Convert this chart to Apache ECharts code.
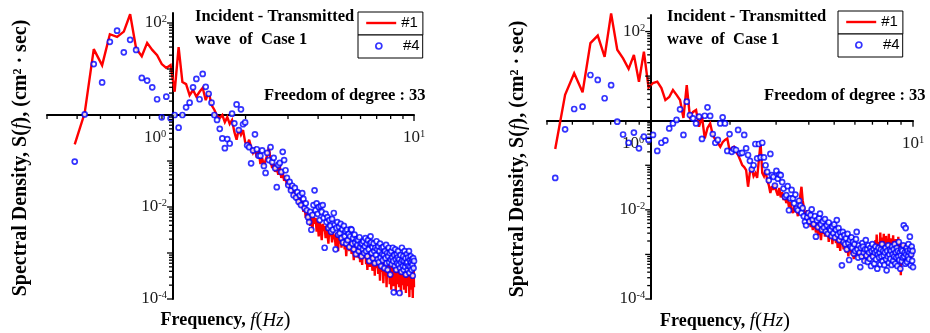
<!DOCTYPE html>
<html>
<head>
<meta charset="utf-8">
<script src="https://cdn.jsdelivr.net/npm/echarts@6/dist/echarts.min.js"></script>
<style>
  html, body { margin: 0; padding: 0; background: #fff; }
  #chart { width: 930px; height: 333px; }
</style>
</head>
<body>
<div id="chart"></div>
<script>
// Frequency bins (Hz), df = 1/25.6 Hz
const freq = [
  0.391,0.430,0.469,0.508,0.547,0.586,0.625,0.664,0.703,0.742,
  0.781,0.820,0.859,0.898,0.938,0.977,1.016,1.055,1.094,1.133,
  1.172,1.211,1.250,1.289,1.328,1.367,1.406,1.445,1.484,1.523,
  1.563,1.602,1.641,1.680,1.719,1.758,1.797,1.836,1.875,1.914,
  1.953,1.992,2.031,2.070,2.109,2.148,2.188,2.227,2.266,2.305,
  2.344,2.383,2.422,2.461,2.500,2.539,2.578,2.617,2.656,2.695,
  2.734,2.773,2.813,2.852,2.891,2.930,2.969,3.008,3.047,3.086,
  3.125,3.164,3.203,3.242,3.281,3.320,3.359,3.398,3.438,3.477,
  3.516,3.555,3.594,3.633,3.672,3.711,3.750,3.789,3.828,3.867,
  3.906,3.945,3.984,4.023,4.063,4.102,4.141,4.180,4.219,4.258,
  4.297,4.336,4.375,4.414,4.453,4.492,4.531,4.570,4.609,4.648,
  4.688,4.727,4.766,4.805,4.844,4.883,4.922,4.961,5.000,5.039,
  5.078,5.117,5.156,5.195,5.234,5.273,5.313,5.352,5.391,5.430,
  5.469,5.508,5.547,5.586,5.625,5.664,5.703,5.742,5.781,5.820,
  5.859,5.898,5.938,5.977,6.016,6.055,6.094,6.133,6.172,6.211,
  6.250,6.289,6.328,6.367,6.406,6.445,6.484,6.523,6.563,6.602,
  6.641,6.680,6.719,6.758,6.797,6.836,6.875,6.914,6.953,6.992,
  7.031,7.070,7.109,7.148,7.188,7.227,7.266,7.305,7.344,7.383,
  7.422,7.461,7.500,7.539,7.578,7.617,7.656,7.695,7.734,7.773,
  7.813,7.852,7.891,7.930,7.969,8.008,8.047,8.086,8.125,8.164,
  8.203,8.242,8.281,8.320,8.359,8.398,8.438,8.477,8.516,8.555,
  8.594,8.633,8.672,8.711,8.750,8.789,8.828,8.867,8.906,8.945,
  8.984,9.023,9.063,9.102,9.141,9.180,9.219,9.258,9.297,9.336,
  9.375,9.414,9.453,9.492,9.531,9.570,9.609,9.648,9.688,9.727,
  9.766,9.805,9.844,9.883,9.922,9.961,10.000
];

// Left panel: gauge #1 spectrum, all bins
const leftS1 = [
  0.23,1.1,27,12,57,50,65,155,28,19,
  37,26,20,12.8,10.5,12.2,3.2,30,5.2,4.7,
  2.7,3.5,2.5,3.2,3.9,2.1,3.2,1.65,1.3,0.95,
  0.86,1.0,0.7,0.9,0.64,0.78,0.43,0.29,0.5,0.37,
  0.47,0.26,0.22,0.29,0.2,0.15,0.18,0.12,0.17,0.086,
  0.116,0.078,0.105,0.135,0.2,0.105,0.07,0.086,0.058,0.07,
  0.05,0.078,0.043,0.058,0.037,0.047,0.029,0.039,0.023,0.032,
  0.026,0.017,0.023,0.014,0.019,0.011,0.016,0.01,0.014,0.0078,
  0.0105,0.0058,0.009,0.0047,0.0078,0.0039,0.0071,0.0032,0.006,0.0043,
  0.0058,0.0029,0.005,0.0023,0.0047,0.0033,0.0019,0.0043,0.003,0.0039,
  0.0021,0.0039,0.0026,0.0016,0.0035,0.0023,0.0032,0.0017,0.0029,0.002,
  0.0025,0.0014,0.0027,0.0019,0.0011,0.0023,0.0016,0.0026,0.0013,0.002,
  0.0016,0.0023,0.0012,0.0018,0.00085,0.0017,0.00135,0.0021,0.0011,0.0015,
  0.0017,0.00095,0.0014,0.0012,0.0007,0.0015,0.0011,0.0016,0.0008,0.0013,
  0.0011,0.00077,0.00135,0.00063,0.0012,0.0009,0.00055,0.0013,0.00085,0.001,
  0.00077,0.0011,0.00057,0.0009,0.00043,0.001,0.0007,0.0008,0.0005,0.00095,
  0.00063,0.00085,0.00041,0.00073,0.00057,0.0009,0.00032,0.00066,0.00052,0.00077,
  0.00047,0.00073,0.00035,0.00063,0.00052,0.00025,0.0006,0.00045,0.00077,0.00039,
  0.00055,0.00022,0.00047,0.00063,0.00032,0.00052,0.00043,0.00018,0.00057,0.00037,
  0.0005,0.0003,0.0006,0.00021,0.00043,0.00052,0.00016,0.00039,0.00057,0.00029,
  0.00043,0.00019,0.00047,0.00034,0.00063,0.00014,0.00037,0.0003,0.00052,0.00021,
  0.00039,0.00045,0.00018,0.00032,0.00057,0.00025,0.000122,0.00041,0.00031,0.00052,
  0.0002,0.00037,0.00047,0.00016,0.00034,0.00063,0.00026,0.000135,0.00043,0.0003,
  0.0005,0.00019,0.00035,0.0006,0.00024,0.00011,0.00039,0.0007,0.00029,0.00016,
  0.00041,0.00055,0.00021,0.000105,0.00032,0.00063,0.00018
];

// Left panel: gauge #4 spectrum, all bins
const leftS4 = [
  0.097,1.03,12.8,5.1,39,68,23,43,26,6.4,
  5.6,4.0,2.2,0.89,2.5,0.85,1.0,0.53,1.0,1.47,
  1.85,4.0,6.1,2.2,7.8,4.1,2.9,1.85,1.0,0.78,
  0.5,0.31,0.19,0.3,0.24,1.07,0.66,1.7,0.47,1.33,
  0.63,0.69,0.22,0.2,0.089,0.17,0.38,0.18,0.13,0.13,
  0.17,0.078,0.055,0.15,0.105,0.2,0.095,0.117,0.07,0.027,
  0.082,0.091,0.058,0.158,0.105,0.063,0.043,0.03,0.035,0.023,
  0.029,0.018,0.026,0.016,0.021,0.013,0.018,0.011,0.02,0.015,
  0.0095,0.012,0.0085,0.006,0.0047,0.0078,0.0032,0.0067,0.011,0.023,
  0.0085,0.012,0.0071,0.01,0.0052,0.0105,0.0078,0.011,0.0058,0.0013,
  0.0071,0.0047,0.006,0.0035,0.0052,0.0039,0.0029,0.0055,0.0032,0.0074,
  0.0041,0.0012,0.0035,0.0047,0.0025,0.0037,0.0027,0.0043,0.0021,0.0033,
  0.0017,0.0039,0.0023,0.003,0.0016,0.0032,0.0019,0.0026,0.00135,0.0023,
  0.0033,0.0032,0.0016,0.0021,0.0012,0.0025,0.0017,0.00095,0.002,0.0015,
  0.0019,0.0011,0.0022,0.00135,0.0016,0.00085,0.0016,0.0012,0.0018,0.001,
  0.0014,0.0021,0.0011,0.0016,0.00085,0.0019,0.0012,0.00067,0.0016,0.0023,
  0.0017,0.001,0.00135,0.00077,0.0016,0.0011,0.0006,0.0013,0.0009,0.0018,
  0.0012,0.00073,0.0014,0.00063,0.0011,0.0016,0.0008,0.00052,0.0013,0.00095,
  0.0007,0.00135,0.0009,0.00047,0.0011,0.00077,0.0015,0.0006,0.001,0.00043,
  0.00085,0.0013,0.00063,0.001,0.00034,0.00073,0.0011,0.00057,0.0008,0.0013,
  0.00067,0.00014,0.0009,0.00052,0.0012,0.00073,0.00043,0.00095,0.0006,0.0008,
  0.0011,0.00055,0.00073,0.000135,0.00047,0.0009,0.00063,0.00039,0.0013,0.0007,
  0.00052,0.00085,0.00043,0.00067,0.0011,0.0005,0.00077,0.00034,0.0006,0.00095,
  0.00063,0.00043,0.0008,0.00052,0.0011,0.00037,0.0007,0.0005,0.00085,0.00063,
  0.00043,0.00073,0.00055,0.00032,0.00077,0.00047,0.00067
];

// Right panel: gauge #1 spectrum, from the second bin on
const rightS1 = [
  0.231,3.8,11.6,4.35,55,81,27,255,39,
  25,14.5,30,7.5,35.5,5.5,7.0,7.5,5.4,2.9,
  3.4,4.9,3.8,2.9,1.15,6.3,1.23,1.57,1.74,0.73,
  1.23,0.4,0.69,0.87,0.48,0.37,0.32,0.26,0.33,0.37,
  0.4,0.22,0.24,0.26,0.198,0.17,0.131,0.101,0.091,0.078,
  0.033,0.07,0.086,0.057,0.067,0.052,0.131,0.32,0.067,0.057,
  0.078,0.046,0.036,0.024,0.034,0.028,0.038,0.026,0.021,0.031,
  0.019,0.025,0.0165,0.02,0.0142,0.0175,0.0115,0.015,0.01,0.0085,
  0.012,0.009,0.0103,0.0072,0.0126,0.021,0.033,0.0165,0.0115,0.008,
  0.0069,0.0098,0.0052,0.0076,0.0041,0.0059,0.0035,0.0062,0.0045,0.0031,
  0.0052,0.0027,0.0045,0.0033,0.0021,0.0041,0.0029,0.0048,0.0025,0.0035,
  0.0026,0.0038,0.0019,0.0031,0.0024,0.0034,0.0017,0.0029,0.0022,0.0027,
  0.0018,0.0026,0.0014,0.0023,0.0019,0.0012,0.0024,0.0017,0.0021,0.0013,
  0.0019,0.0015,0.0011,0.0018,0.00135,0.0009,0.0016,0.0012,0.00155,0.001,
  0.0014,0.0011,0.00078,0.0013,0.00105,0.0016,0.00085,0.0012,0.00095,0.0014,
  0.001,0.0013,0.0008,0.0011,0.0015,0.00088,0.0012,0.00068,0.00105,0.0013,
  0.0009,0.0012,0.00075,0.0011,0.0014,0.00095,0.0013,0.0008,0.0012,0.001,
  0.0014,0.0009,0.0016,0.0011,0.0021,0.0013,0.0028,0.0012,0.0017,0.00105,
  0.0019,0.0014,0.0031,0.0013,0.0018,0.001,0.0024,0.0015,0.0029,0.0012,
  0.0017,0.0011,0.0026,0.0014,0.0009,0.0021,0.0013,0.0029,0.0015,0.0011,
  0.0023,0.0013,0.0018,0.00085,0.0016,0.0027,0.0012,0.0019,0.001,0.0015,
  0.0022,0.0011,0.0016,0.00075,0.0013,0.0025,0.00095,0.0014,0.0019,0.0011,
  0.00034,0.0012,0.0017,0.0009,0.0014,0.0006,0.0012,0.0018,0.001,0.0013,
  0.0009,0.0012,0.00075,0.0011,0.0015,0.0008,0.0012,0.0009,0.0013,0.00085,
  0.0011,0.0014,0.00078,0.0012,0.0009,0.0013,0.001
];

// Right panel: gauge #4 spectrum, from the second bin on
const rightS4 = [
  0.052,0.64,1.83,2.06,10.6,8.2,3.19,6.25,0.95,
  0.49,0.32,0.54,0.24,0.44,0.37,0.48,0.21,0.32,0.36,
  0.67,0.87,1.04,1.8,0.48,2.67,1.34,1.13,0.87,1.23,
  0.39,1.29,2.0,1.28,0.5,0.32,0.37,0.87,1.19,0.87,
  0.21,0.5,0.2,0.23,0.22,0.62,0.185,0.19,0.48,0.24,
  0.17,0.126,0.081,0.1,0.3,0.143,0.3,0.15,0.32,0.15,
  0.1,0.071,0.046,0.18,0.06,0.055,0.035,0.075,0.05,0.062,
  0.06,0.042,0.03,0.0196,0.0215,0.034,0.0098,0.018,0.028,0.018,
  0.014,0.022,0.0107,0.0098,0.016,0.0125,0.0085,0.011,0.0072,0.0054,
  0.0045,0.0068,0.0085,0.0055,0.0076,0.0102,0.006,0.0048,0.0072,0.0025,
  0.0058,0.0041,0.0065,0.0082,0.0047,0.0036,0.0055,0.004,0.0062,0.0033,
  0.0045,0.0029,0.0052,0.0038,0.0035,0.0026,0.0042,0.003,0.0047,0.0024,
  0.0036,0.0059,0.0028,0.0039,0.0021,0.0031,0.0025,0.00057,0.0032,0.0019,
  0.0027,0.0017,0.0023,0.0013,0.0029,0.0018,0.00075,0.0021,0.0015,0.0024,
  0.0014,0.0019,0.00105,0.0017,0.0012,0.0022,0.0032,0.0013,0.00085,0.0016,
  0.0011,0.00052,0.0014,0.0009,0.0018,0.0015,0.0011,0.00072,0.0013,0.0021,
  0.00095,0.0013,0.00068,0.0016,0.0011,0.0008,0.0014,0.00055,0.0012,0.0017,
  0.0009,0.0013,0.00062,0.0011,0.0015,0.00078,0.0012,0.00048,0.001,0.0014,
  0.00085,0.0011,0.0006,0.0013,0.0009,0.0017,0.0007,0.0012,0.00095,0.00058,
  0.0011,0.0014,0.00078,0.00044,0.0012,0.0009,0.0016,0.00065,0.001,0.0013,
  0.0008,0.0012,0.00058,0.0015,0.001,0.00072,0.0013,0.0009,0.0017,0.00062,
  0.0011,0.00085,0.0014,0.00055,0.0012,0.0009,0.0019,0.00075,0.0011,0.00048,
  0.00095,0.0013,0.0007,0.0012,0.00085,0.0016,0.0045,0.0009,0.0011,0.00062,
  0.0039,0.001,0.0014,0.00068,0.0012,0.0009,0.0017,0.00078,0.0011,0.0025,
  0.0013,0.00057,0.001,0.0015,0.00072,0.0012,0.00052
];

// Labelled decades
const xLabelValues = [1, 10];
const yLabelValues = [1e-4, 1e-2, 1e2];

const SERIF = 'Liberation Serif';
const RED = '#ff0000';
const BLUE = '#0000ff';

const panels = [
  { rect: { left: 47, top: 13, width: 367, height: 286 }, xr: [0.3, 10], yr: [1e-4, 165],
    f: freq, s1: leftS1, s4: leftS4, titleX: 195, noteX: 264, legendX: 358, legendY: 12,
    yNameGap: 142, xNameGap: 195 },
  { rect: { left: 547, top: 15, width: 366, height: 284 }, xr: [0.4, 10], yr: [1e-4, 235],
    f: freq.slice(1), s1: rightS1, s4: rightS4, titleX: 667, noteX: 764, legendX: 838, legendY: 11,
    yNameGap: 123, xNameGap: 190 }
];

const lg = Math.log10;
const isDecade = v => Math.abs(lg(v) - Math.round(lg(v))) < 1e-9;

const powRich = {
  b: { fontFamily: SERIF, fontSize: 17, color: '#1a1a1a', lineHeight: 18 },
  s: { fontFamily: SERIF, fontSize: 10.5, color: '#1a1a1a', verticalAlign: 'top', lineHeight: 10 },
  sp: { width: 36 }
};
function powLabel(v) {
  const e = Math.round(lg(v));
  return '{b|10}{s|' + e + '}' + (e === 0 ? '{sp| }' : '');
}

// 1..9 x each decade inside a range
function logTicks(range) {
  const out = [];
  for (let d = -4; d <= 2; d++) {
    for (let m = 1; m <= 9; m++) {
      const v = m * Math.pow(10, d);
      if (v >= range[0] * 0.999 && v <= range[1] * 1.001) out.push(v);
    }
  }
  return out;
}

const grid = [], xAxis = [], yAxis = [], series = [], legend = [], title = [];

panels.forEach((p, i) => {
  const r = p.rect;
  grid.push(Object.assign({ outerBoundsMode: 'none', containLabel: false }, r));
  // axes cross at (1, 1)
  const xOff = -r.height * (0 - lg(p.yr[0])) / (lg(p.yr[1]) - lg(p.yr[0]));
  const yOff = -r.width * (0 - lg(p.xr[0])) / (lg(p.xr[1]) - lg(p.xr[0]));

  xAxis.push({
    type: 'log', logBase: 10, gridIndex: i, min: p.xr[0], max: p.xr[1],
    position: 'bottom', offset: xOff,
    axisLine: { show: true, onZero: false, lineStyle: { color: '#000', width: 2 } },
    axisTick: { show: false }, minorTick: { show: false },
    splitLine: { show: false }, minorSplitLine: { show: false },
    axisLabel: { customValues: xLabelValues, margin: 14, formatter: powLabel, rich: powRich },
    name: '{b|Frequency, }{i|f}{p|(}{i|Hz}{p|)}',
    nameLocation: 'middle', nameGap: p.xNameGap,
    nameTextStyle: { padding: [0, 10, 0, 0], rich: {
      b: { fontFamily: SERIF, fontWeight: 'bold', fontSize: 18, color: '#000' },
      i: { fontFamily: SERIF, fontStyle: 'italic', fontSize: 19, color: '#000' },
      p: { fontFamily: SERIF, fontSize: 21, color: '#000' }
    } }
  });

  yAxis.push({
    type: 'log', logBase: 10, gridIndex: i, min: p.yr[0], max: p.yr[1],
    position: 'left', offset: yOff,
    axisLine: { show: true, onZero: false, lineStyle: { color: '#000', width: 2 } },
    axisTick: { show: false }, minorTick: { show: false },
    splitLine: { show: false }, minorSplitLine: { show: false },
    axisLabel: { customValues: yLabelValues, margin: 6, formatter: powLabel, rich: powRich },
    name: '{b|Spectral Density, S(}{i|f}{b|), (cm\u00b2 \u00b7 sec)}',
    nameLocation: 'middle', nameGap: p.yNameGap, nameRotate: 90,
    nameTextStyle: { padding: [0, 4, 0, 0], rich: {
      b: { fontFamily: SERIF, fontWeight: 'bold', fontSize: 20, color: '#000' },
      i: { fontFamily: SERIF, fontStyle: 'italic', fontSize: 20.5, color: '#000' }
    } }
  });

  series.push({
    name: '#1', type: 'line', xAxisIndex: i, yAxisIndex: i,
    data: p.f.map((f, k) => [f, p.s1[k]]),
    symbol: 'none', clip: false, z: 2,
    lineStyle: { color: RED, width: 2.4, join: 'miter', miterLimit: 3 },
    itemStyle: { color: RED }
  });
  series.push({
    name: '#4', type: 'scatter', xAxisIndex: i, yAxisIndex: i,
    data: p.f.map((f, k) => [f, p.s4[k]]),
    symbol: 'circle', symbolSize: 5, z: 3,
    itemStyle: { color: '#fff', borderColor: BLUE, borderWidth: 1.7 }
  });

  const legendBase = {
    orient: 'vertical', left: p.legendX, selectedMode: false,
    borderColor: '#000', borderWidth: 1, backgroundColor: '#fff',
    textStyle: { fontFamily: 'Liberation Sans', fontSize: 15, color: '#000', lineHeight: 16 }
  };
  legend.push(Object.assign({}, legendBase, {
    top: p.legendY, itemWidth: 30, itemHeight: 14, padding: [3, 5, 4, 7],
    data: [{ name: '#1', lineStyle: { color: RED, width: 2.4 },
             itemStyle: { color: 'rgba(0,0,0,0)', opacity: 0, borderWidth: 0 } }]
  }));
  legend.push(Object.assign({}, legendBase, {
    top: p.legendY + 23, itemWidth: 30, itemHeight: 6, padding: [3, 3, 4, 17],
    formatter: name => ' ' + name,
    data: [{ name: '#4', icon: 'circle', itemStyle: { color: '#fff', borderColor: BLUE, borderWidth: 1.7 } }]
  }));

  const bold = { fontFamily: SERIF, fontWeight: 'bold', fontSize: 16.5, color: '#000' };
  title.push({ text: 'Incident - Transmitted\nwave  of  Case 1', left: p.titleX, top: 5, padding: 0,
    textStyle: Object.assign({ lineHeight: 23 }, bold) });
  title.push({ text: 'Freedom of degree : 33', left: p.noteX, top: 86, padding: 0,
    textStyle: Object.assign({ lineHeight: 20 }, bold) });
});

const chart = echarts.init(document.getElementById('chart'), null, { renderer: 'canvas' });
chart.setOption({
  animation: false,
  backgroundColor: '#fff',
  textStyle: { fontFamily: SERIF },
  title, legend, grid, xAxis, yAxis, series
});

// Tick marks on both crossing axes, placed through each panel's own scales
const tickMarks = [];
panels.forEach((p, i) => {
  const finder = { xAxisIndex: i, yAxisIndex: i };
  logTicks(p.xr).forEach(v => {
    const pt = chart.convertToPixel(finder, [v, 1]);
    const len = isDecade(v) ? 6 : 4;
    tickMarks.push({ type: 'line', silent: true, z: 50,
      shape: { x1: pt[0], y1: pt[1], x2: pt[0], y2: pt[1] + len },
      style: { stroke: '#000', lineWidth: 1.3 } });
  });
  logTicks(p.yr).forEach(v => {
    const pt = chart.convertToPixel(finder, [1, v]);
    const len = isDecade(v) ? 6 : 4;
    tickMarks.push({ type: 'line', silent: true, z: 50,
      shape: { x1: pt[0] - len, y1: pt[1], x2: pt[0], y2: pt[1] },
      style: { stroke: '#000', lineWidth: 1.3 } });
  });
});
chart.setOption({ graphic: tickMarks });
</script>
</body>
</html>
